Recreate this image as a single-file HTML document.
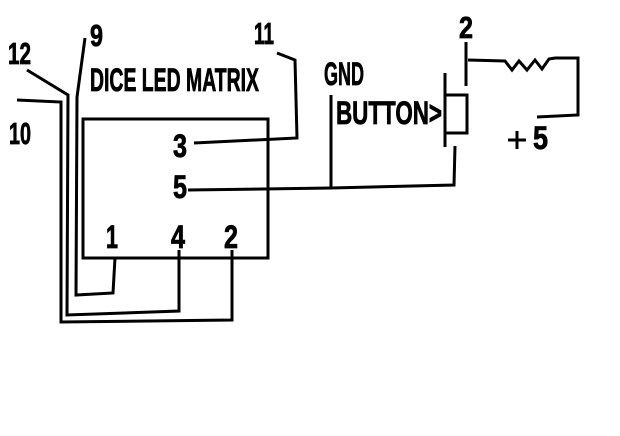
<!DOCTYPE html>
<html><head><style>html,body{margin:0;padding:0;background:#fff;width:620px;height:436px;overflow:hidden}</style></head>
<body>
<svg width="620" height="436" viewBox="0 0 620 436" xmlns="http://www.w3.org/2000/svg">
<g fill="none" stroke="#000" stroke-width="3" stroke-linejoin="miter">
<rect x="83" y="119" width="185" height="139"/>
<polyline points="194,143 297,138 295,60 277,53"/>
<polyline points="188,190 331,188 454,185 455,146"/>
<line x1="331" y1="95" x2="331" y2="189"/>
<line x1="445" y1="73" x2="445" y2="147"/>
<polyline points="446,95 467,95 467,133 446,133"/>
<line x1="466" y1="42" x2="466" y2="86"/>
<polyline points="468,60 505,61 512,70 519,61 527,70 535,60 542,69 549,59 555,58 578,58 578,115 537,117"/>
<polyline points="115,258 113,293 76,295 77,97 85,38"/>
<polyline points="179,250 179,311 67,315 68,95 27,70"/>
<polyline points="232,250 232,320 61,322 61,102 17,100"/>
<line x1="508" y1="140" x2="526" y2="140"/>
<line x1="517" y1="131" x2="517" y2="149"/>
</g>
<g font-family="Liberation Sans, sans-serif" font-weight="bold" fill="#000" stroke="#000" stroke-width="0.8">
<text x="8" y="64" font-size="31" textLength="23" lengthAdjust="spacingAndGlyphs">12</text>
<text x="90" y="46" font-size="31" textLength="13" lengthAdjust="spacingAndGlyphs">9</text>
<text x="9" y="144" font-size="31" textLength="22" lengthAdjust="spacingAndGlyphs">10</text>
<text x="254" y="44" font-size="31" textLength="20" lengthAdjust="spacingAndGlyphs">11</text>
<text x="90" y="91" font-size="32" textLength="169" lengthAdjust="spacingAndGlyphs">DICE LED MATRIX</text>
<text x="173" y="157" font-size="32" textLength="14" lengthAdjust="spacingAndGlyphs">3</text>
<text x="173" y="198" font-size="32" textLength="14" lengthAdjust="spacingAndGlyphs">5</text>
<text x="106" y="248" font-size="32" textLength="12" lengthAdjust="spacingAndGlyphs">1</text>
<text x="171" y="248" font-size="32" textLength="14" lengthAdjust="spacingAndGlyphs">4</text>
<text x="224" y="248" font-size="32" textLength="14" lengthAdjust="spacingAndGlyphs">2</text>
<text x="324" y="85" font-size="32" textLength="40" lengthAdjust="spacingAndGlyphs">GND</text>
<text x="336" y="124" font-size="32" textLength="106" lengthAdjust="spacingAndGlyphs">BUTTON&gt;</text>
<text x="459" y="38" font-size="31" textLength="14" lengthAdjust="spacingAndGlyphs">2</text>
<text x="533" y="149" font-size="32" textLength="15" lengthAdjust="spacingAndGlyphs">5</text>
</g>
</svg>
</body></html>
